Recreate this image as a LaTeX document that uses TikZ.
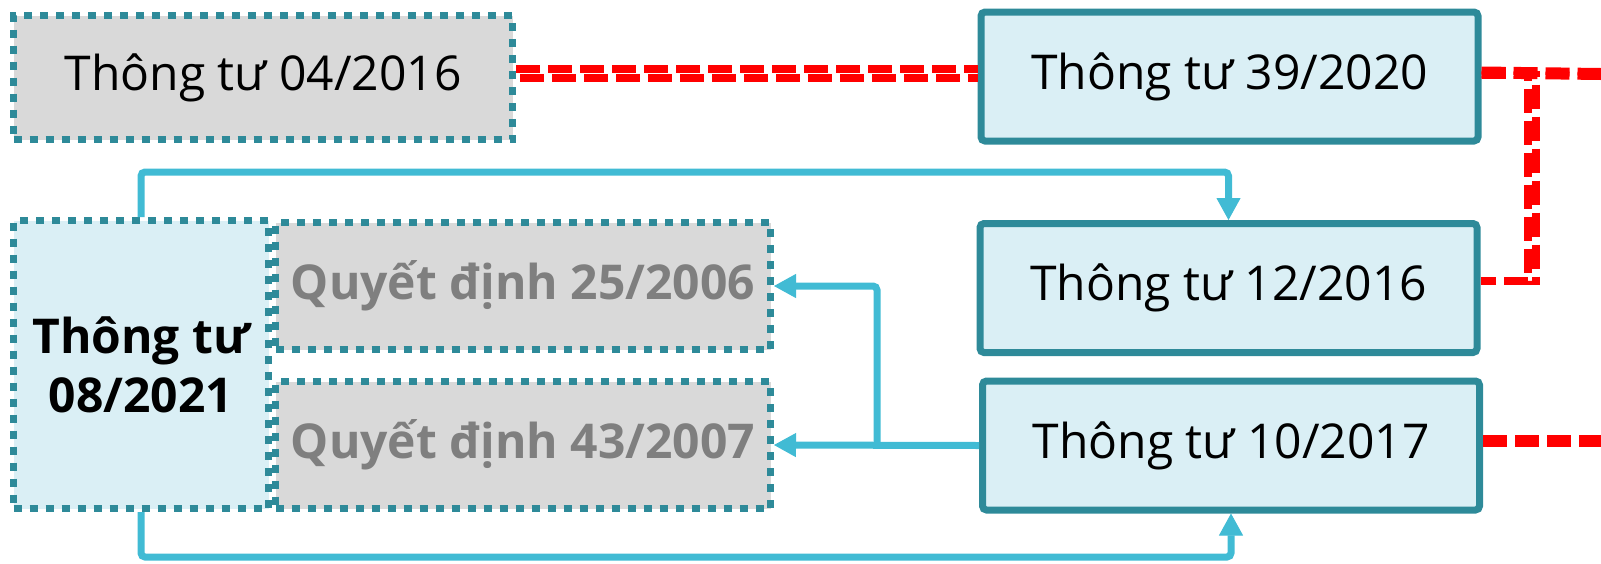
\documentclass[tikz,border=0pt]{standalone}
\usepackage{fontspec}
\setmainfont{Open Sans}
\usetikzlibrary{arrows.meta}
\definecolor{tealline}{HTML}{2E8A99}
\definecolor{paleblue}{HTML}{DAEFF5}
\definecolor{boxgray}{HTML}{D9D9D9}
\definecolor{linkcyan}{HTML}{41BBD4}
\definecolor{graytext}{HTML}{7F7F7F}
\begin{document}
\begin{tikzpicture}[x=1pt,y=-1pt,
  font=\fontsize{48}{59}\selectfont,
  box/.style={draw=tealline,line width=7pt,rounded corners=4pt,fill=paleblue,
    inner sep=0pt,minimum width=497pt,minimum height=129pt},
  oldbox/.style={box,sharp corners,dash pattern=on 8pt off 8pt,fill=boxgray},
  link/.style={draw=linkcyan,line width=7pt,rounded corners=4pt,
    -{Triangle[length=22pt,width=24pt,line width=1pt]}},
  repeal/.style={draw=red,line width=8pt,dash pattern=on 24pt off 8pt}]
  \useasboundingbox (0,0) rectangle (1601,563);
  \node[oldbox,minimum width=499pt,minimum height=124pt] (tt04) at (263,77.5) {Thông tư 04/2016};
  \node[box] (tt39) at (1229.5,76.5) {Thông tư 39/2020};
  \node[box] (tt12) at (1228.5,288) {Thông tư 12/2016};
  \node[box] (tt10) at (1231,445.5) {Thông tư 10/2017};
  \node[oldbox,minimum width=495pt,minimum height=127pt,text=graytext,font=\fontsize{48}{59}\selectfont\bfseries]
    (qd25) at (523,286) {Quyết định 25/2006};
  \node[oldbox,minimum width=495pt,minimum height=127pt,text=graytext,font=\fontsize{48}{59}\selectfont\bfseries]
    (qd43) at (523,445) {Quyết định 43/2007};
  \node[oldbox,fill=paleblue,minimum width=255pt,minimum height=288pt,align=center,
    font=\fontsize{48}{59}\selectfont\bfseries] (tt08) at (141,364.5) {Thông tư\\08/2021};
  \coordinate (out39) at (1601,72);
  \coordinate (out10) at (1601,440);
  \coordinate (split) at (877,445);
  \draw[link] (tt08.north) -- ++(0,-45) -| (tt12.north);
  \draw[link] (tt08.south) -- ++(0,45) -| (tt10.south);
  \draw[link] (tt10.west) -- (qd43.east);
  \draw[link] (split) |- (qd25.east);
  \draw[repeal] ([yshift=9pt]tt04.east) -- ([yshift=9pt]tt04.east -| tt39.west);
  \draw[repeal] ([xshift=4pt]tt04.east) -- (tt04.east -| tt39.west);
  \draw[repeal] ([yshift=6pt]tt39.east) -- (out39);
  \draw[repeal] ([yshift=2pt]tt39.east) -- ([yshift=-4pt]out39);
  \draw[repeal] ([yshift=6pt]tt39.east) -| ([xshift=47pt,yshift=7pt]tt12.east) -- ([yshift=7pt]tt12.east);
  \draw[repeal] ([yshift=2pt]tt39.east) -| ([xshift=55pt,yshift=3pt]tt12.east);
  \draw[repeal,line width=12pt] ([yshift=5pt]tt10.east) -- ([yshift=5pt]tt10.east -| out10);
\end{tikzpicture}
\end{document}
